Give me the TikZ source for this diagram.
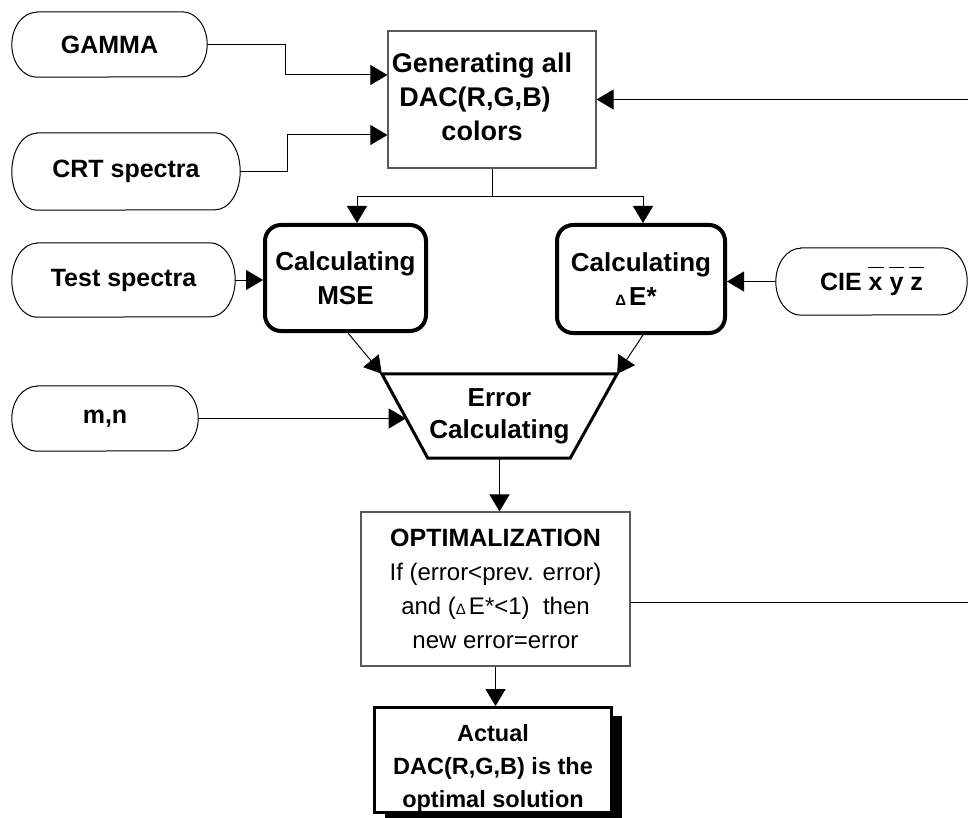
\documentclass[tikz,border=0pt]{standalone}
\usepackage{fontspec}
\setmainfont{Liberation Sans}
\usetikzlibrary{arrows.meta,calc,shadows}

% rounded "terminal" outline drawn round a named node: #2 = half height
\newcommand\pillframe[2]{%
  \draw[line width=1pt]
    ([xshift=25pt]#1.north west) -- ([xshift=-25pt]#1.north east)
    arc[start angle=90,end angle=-90,x radius=25pt,y radius=#2pt]
    -- ([xshift=25pt]#1.south west)
    arc[start angle=270,end angle=90,x radius=25pt,y radius=#2pt] -- cycle;}
% letter with a bar above it
\newcommand\topbar[1]{\setbox0\hbox{#1}\rlap{\hbox to\wd0{\hss\rule[0.9em]{\dimexpr\wd0+2pt\relax}{1.6pt}\hss}}\box0\relax}
% small delta
\newcommand\smalldelta{{\fontsize{15}{15}\selectfont Δ}\kern3pt}

\begin{document}
\begin{tikzpicture}[x=1pt,y=-1pt,
  conn/.style={line width=1pt,-{Triangle[length=17pt,width=20pt]}},
  plain/.style={line width=1pt},
  lbl/.style={font=\fontsize{25}{34}\selectfont\bfseries,align=center,inner sep=0pt},
  thinbox/.style={draw=black!65,line width=1.2pt,fill=white,inner sep=0pt},
  thickbox/.style={lbl,draw,line width=4pt,rounded corners=16pt,
                   font=\fontsize{26}{34}\selectfont\bfseries},
]
\useasboundingbox (0,0) rectangle (968,818);

% inputs
\node[lbl,minimum width=195pt,minimum height=65pt] (gamma) at (109.5,44.5) {GAMMA};
\pillframe{gamma}{32.5}
\node[lbl,minimum width=228pt,minimum height=77pt] (crt) at (126,171.5) {CRT spectra};
\pillframe{crt}{38.5}
\node[lbl,minimum width=223pt,minimum height=74pt] (test) at (123.5,280) {Test spectra};
\pillframe{test}{37}
\node[lbl,minimum width=186pt,minimum height=65pt] (mn) at (105,418.5) {m,n};
\pillframe{mn}{32.5}
\node[lbl,minimum width=191pt,minimum height=67pt] (cie) at (871.5,281.5)
  {CIE \topbar{x} \topbar{y} \topbar{z}};
\pillframe{cie}{33.5}

% processing steps
\node[thinbox,minimum width=208pt,minimum height=137pt,
      font=\fontsize{27}{34}\selectfont\bfseries] (gen) at (492,99.5)
  {\begin{tabular}{@{}c@{}}Generating all\\DAC(R,G,B)\kern14pt\\colors\end{tabular}\kern20pt};
\node[thickbox,minimum width=161pt,minimum height=106pt] (mse) at (345.5,278)
  {Calculating\\MSE};
\node[thickbox,minimum width=168pt,minimum height=108pt] (dE) at (641,279)
  {Calculating\\\smalldelta E*\kern10pt};
\node[lbl,minimum width=235pt,minimum height=84pt,
      font=\fontsize{26}{32}\selectfont\bfseries] (err) at (499.5,416)
  {Error\\Calculating};
\draw[line width=3pt,line join=miter] (err.north west) -- (err.north east)
  -- ([xshift=-47pt]err.south east) -- ([xshift=46pt]err.south west) -- cycle;
\node[thinbox,align=center,minimum width=269pt,minimum height=154pt,
      font=\fontsize{24}{34}\selectfont] (opt) at (495.5,589)
  {{\fontsize{25}{30}\selectfont\bfseries OPTIMALIZATION}\\
   If (error<prev. error)\\and (\smalldelta E*<1)\ \ then\\new error=error};
\node[lbl,draw,line width=3pt,fill=white,minimum width=237pt,minimum height=103pt,
      font=\fontsize{23.5}{33}\selectfont\bfseries,
      drop shadow={shadow xshift=10pt,shadow yshift=-8pt,fill=black,opacity=1}]
  (act) at (493,760) {\rule{0pt}{34pt}Actual\\DAC(R,G,B) is the\\optimal solution};

% connectors
\coordinate (fbin) at (968,99.5);
\coordinate (fbout) at (968,602);
\coordinate (errL) at ($(err.north west)!0.52!([xshift=46pt]err.south west)$);

\draw[conn] (gamma.east) -| (285,75) -- (gen.west |- 0,75);
\draw[conn] (crt.east) -| (287,135) -- (gen.west |- 0,135);
\draw[conn] (gen.south) -- ++(0,28) -| ([xshift=11.5pt]mse.north);
\draw[conn] (gen.south) -- ++(0,28) -| ([xshift=2pt]dE.north);
\draw[conn] (test.east) -- (test.east -| mse.west);
\draw[conn] (cie.west) -- (cie.west -| dE.east);
\draw[conn] ([xshift=2.5pt]mse.south) -- (err.north west);
\draw[conn] ([xshift=2pt]dE.south) -- (err.north east);
\draw[conn] (mn.east) -- (mn.east -| errL);
\draw[conn] (err.south) -- (err.south |- opt.north);
\draw[conn] (opt.south) -- (opt.south |- act.north);
\draw[plain] ([yshift=-13pt]opt.east) -- (fbout);
\draw[conn] (fbin) -- (fbin -| gen.east);
\end{tikzpicture}
\end{document}
